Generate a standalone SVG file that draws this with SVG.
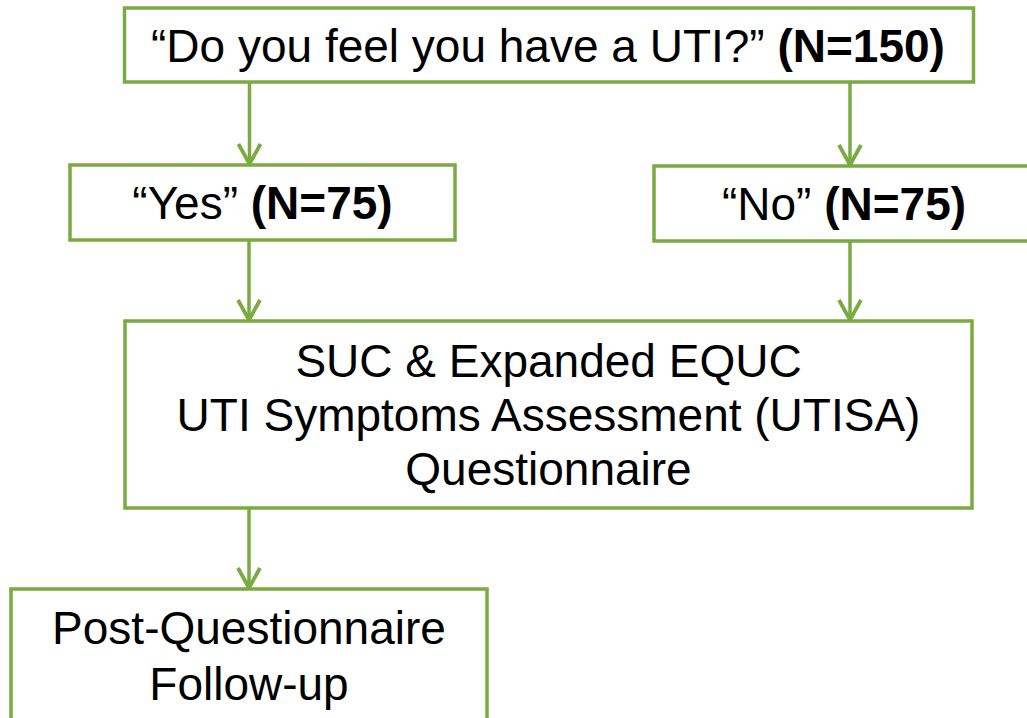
<svg xmlns="http://www.w3.org/2000/svg" width="1027" height="718" viewBox="0 0 1027 718">
  <style>
    .box { fill: #ffffff; stroke: #79AB40; stroke-width: 3.5; }
    .edge { fill: none; stroke: #79AB40; stroke-width: 3.5; marker-end: url(#chevron); }
    .t { font-family: "Liberation Sans", Arial, sans-serif; font-size: 46px; fill: #000000; text-anchor: middle; }
    .b { font-weight: bold; }
  </style>
  <defs>
    <marker id="chevron" markerUnits="userSpaceOnUse" viewBox="0 0 24 26" markerWidth="24" markerHeight="26" refX="21" refY="13" orient="auto">
      <path d="M1,2 L21,13 L1,24" fill="none" stroke="#79AB40" stroke-width="3.8" stroke-linejoin="miter"/>
    </marker>
  </defs>
  <rect width="1027" height="718" fill="#ffffff"/>

  <g id="connectors">
    <path class="edge" d="M249.5,82 V164"/>
    <path class="edge" d="M850,82 V165"/>
    <path class="edge" d="M249,240 V320"/>
    <path class="edge" d="M850,241 V320"/>
    <path class="edge" d="M249,508 V588"/>
  </g>

  <g id="question">
    <rect class="box" x="124.5" y="8" width="849" height="74"/>
    <text class="t" x="548" y="62">“Do you feel you have a UTI?” <tspan class="b">(N=150)</tspan></text>
  </g>

  <g id="yes">
    <rect class="box" x="70" y="165" width="385" height="75"/>
    <text class="t" x="262.5" y="219">“Yes” <tspan class="b">(N=75)</tspan></text>
  </g>

  <g id="no">
    <rect class="box" x="654" y="166" width="390" height="75"/>
    <text class="t" x="844" y="220">“No” <tspan class="b">(N=75)</tspan></text>
  </g>

  <g id="assessment">
    <rect class="box" x="125" y="321" width="847" height="187"/>
    <text class="t" x="548.5" y="377">SUC &amp; Expanded EQUC</text>
    <text class="t" x="548.5" y="431">UTI Symptoms Assessment (UTISA)</text>
    <text class="t" x="548.5" y="485">Questionnaire</text>
  </g>

  <g id="follow-up">
    <rect class="box" x="11" y="589" width="476" height="140"/>
    <text class="t" x="249" y="644">Post-Questionnaire</text>
    <text class="t" x="249" y="700">Follow-up</text>
  </g>
</svg>
